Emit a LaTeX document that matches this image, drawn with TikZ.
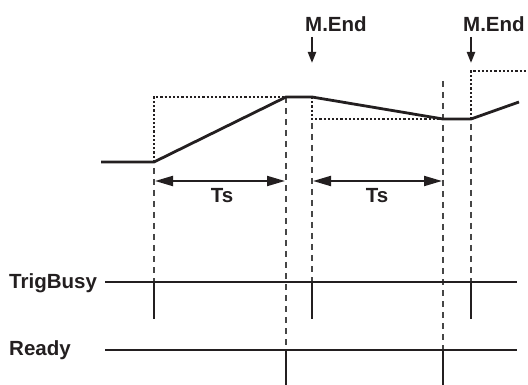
\documentclass[tikz,border=0pt]{standalone}
\usepackage{fontspec}
\setmainfont{Liberation Sans}
\usetikzlibrary{arrows.meta,positioning}
\definecolor{inkblack}{RGB}{35,31,32}
\definecolor{guidegray}{RGB}{70,70,70}

\begin{document}
\begin{tikzpicture}[x=1pt, y=-1pt,
  wave/.style={draw=inkblack, line width=2.8pt, line join=round},
  sig/.style={draw=inkblack, line width=2.3pt},
  pulse/.style={draw=inkblack, line width=2.6pt},
  dotline/.style={draw=inkblack, line width=1.3pt, dash pattern=on 2.2pt off 2pt},
  guide/.style={draw=guidegray, line width=1.5pt, dash pattern=on 6pt off 5pt},
  span/.style={draw=inkblack, line width=2pt,
               {Triangle[length=18pt,width=10pt]}-{Triangle[length=18pt,width=10pt]}},
  endarrow/.style={draw=inkblack, line width=2.2pt, -{Triangle[length=11pt,width=8pt]}},
  lbl/.style={font=\fontsize{20.5}{24}\selectfont\bfseries, text=inkblack, inner sep=0pt}
]
\useasboundingbox (0,0) rectangle (528,385);

% waveform corners
\coordinate (w0) at (101,162);
\coordinate (w1) at (154,162);
\coordinate (w2) at (286,97);
\coordinate (w3) at (312,97);
\coordinate (w4) at (443,119);
\coordinate (w5) at (471,119);
\coordinate (w6) at (519,102);

% points on the signal lines
\coordinate (tbL) at (105,282);
\coordinate (tbR) at (517,282);
\coordinate (rdL) at (105,350);
\coordinate (rdR) at (517,350);
\foreach \n/\x in {1/154, 2/312, 3/471}{
  \coordinate (tb\n) at (\x,282);
  \coordinate (tbLow\n) at (\x,319);
}
\foreach \n/\x in {1/286, 2/443}{
  \coordinate (rd\n) at (\x,350);
  \coordinate (rdLow\n) at (\x,385);
}

% dotted targets
\draw[dotline] (w1) -- (154,97) -- (w2);
\draw[dotline] (w3) -- (312,119) -- (w4);
\draw[dotline] (w5) -- (471,71) -- (528,71);

% dashed guides
\coordinate (g1) at (154,168);
\coordinate (g2) at (312,123);
\coordinate (g3) at (443,81);
\coordinate (g4) at (471,124);
\draw[guide] (g1) -- (tb1);
\draw[guide] (w2) -- (rd1);
\draw[guide] (g2) -- (tb2);
\draw[guide] (g3) -- (rd2);
\draw[guide] (g4) -- (tb3);

% waveform
\draw[wave] (w0) -- (w1) -- (w2) -- (w3) -- (w4) -- (w5) -- (w6);

% Ts spans
\coordinate (ts1a) at (155,181);
\coordinate (ts1b) at (285,181);
\coordinate (ts2a) at (313,181);
\coordinate (ts2b) at (442,181);
\draw[span] (ts1a) -- (ts1b);
\draw[span] (ts2a) -- (ts2b);
\node[lbl, anchor=base] (ts1) at (222,203) {Ts};
\node[lbl, anchor=base] (ts2) at (377,203) {Ts};

% M.End markers
\node[lbl, anchor=base west] (mend1) at (305,32) {M.End};
\node[lbl, anchor=base west] (mend2) at (463,32) {M.End};
\coordinate (me1a) at (312,37);
\coordinate (me1b) at (312,63);
\coordinate (me2a) at (471,37);
\coordinate (me2b) at (471,63);
\draw[endarrow] (me1a) -- (me1b);
\draw[endarrow] (me2a) -- (me2b);

% signals
\node[lbl, anchor=base west] (trigbusy) at (9,288) {TrigBusy};
\node[lbl, anchor=base west] (ready) at (9,355) {Ready};
\draw[sig] (tbL) -- (tbR);
\draw[sig] (rdL) -- (rdR);
\foreach \n in {1,2,3}{
  \draw[pulse] (tb\n) -- (tbLow\n);
}
\foreach \n in {1,2}{
  \draw[pulse] (rd\n) -- (rdLow\n);
}

\end{tikzpicture}
\end{document}
